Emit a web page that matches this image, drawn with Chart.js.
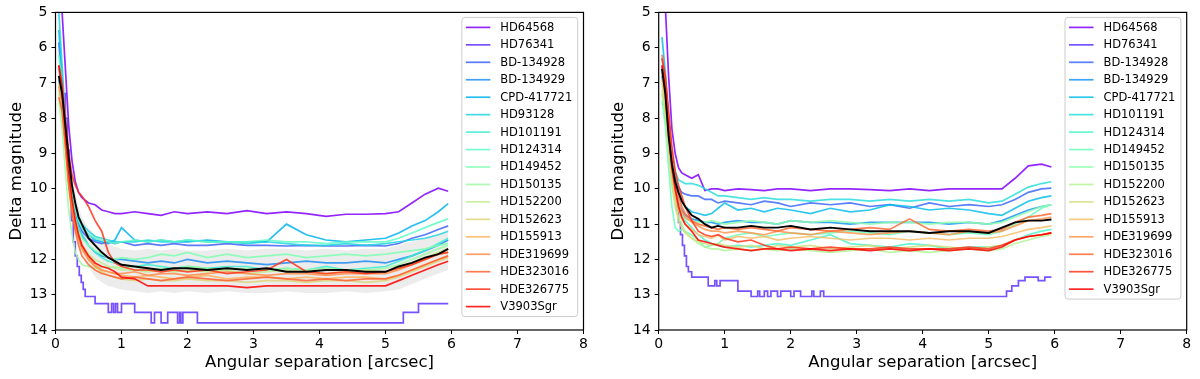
<!DOCTYPE html>
<html>
<head>
<meta charset="utf-8">
<script src="https://cdn.jsdelivr.net/npm/chart.js@4/dist/chart.umd.min.js"></script>
<style>
html, body { margin: 0; padding: 0; background: #fff; }
#wrap { display: flex; width: 1200px; height: 379px; }
.panel { position: relative; width: 600px; height: 379px; }
</style>
</head>
<body>
<div id="wrap">
  <div class="panel"><canvas id="leftChart"></canvas></div>
  <div class="panel"><canvas id="rightChart"></canvas></div>
</div>
<script>
// angular separation grid (arcsec) shared by the smooth curves
const sep = [0.05, 0.1, 0.15, 0.2, 0.25, 0.3, 0.35, 0.4,
  0.5, 0.6, 0.7, 0.8, 0.9, 1.0,
  1.2, 1.4, 1.6, 1.8, 2.0,
  2.3, 2.6, 2.9, 3.2, 3.5, 3.8, 4.1, 4.4, 4.7, 5.0,
  5.2, 5.4, 5.6, 5.8, 5.95];

const xTicks = [0, 1, 2, 3, 4, 5, 6, 7, 8];
const yTicks = [5, 6, 7, 8, 9, 10, 11, 12, 13, 14];

// ---- left panel ----
const leftNames = ['HD64568', 'HD76341', 'BD-134928', 'BD-134929', 'CPD-417721', 'HD93128',
  'HD101191', 'HD124314', 'HD149452', 'HD150135', 'HD152200', 'HD152623', 'HD155913',
  'HDE319699', 'HDE323016', 'HDE326775', 'V3903Sgr'];

// HD76341 is a stepped curve with its own sampling
const leftStepX = [0.05, 0.1, 0.15, 0.18, 0.21, 0.24, 0.27, 0.3, 0.33, 0.36, 0.39, 0.42, 0.45,
  0.6, 0.8, 0.85, 0.88, 0.91, 0.94, 1.0,
  1.2, 1.45, 1.5, 1.6, 1.7, 1.85, 1.88, 1.9, 1.93, 2.15, 5.27, 5.5, 5.95];
const leftStepY = [7.0, 7.3, 8.0, 8.9, 10.0, 10.9, 11.5, 11.9, 12.2, 12.45, 12.65, 12.85, 13.05,
  13.25, 13.5, 13.25, 13.5, 13.25, 13.5, 13.25,
  13.5, 13.8, 13.5, 13.8, 13.5, 13.8, 13.5, 13.8, 13.5, 13.8, 13.5, 13.25, 13.25];

const leftCurves = [
  [4.5, 5.0, 6.6, 8.2, 9.2, 9.8, 10.1, 10.25, 10.4, 10.45, 10.6, 10.65, 10.7, 10.7, 10.65, 10.7, 10.75, 10.65, 10.7, 10.65, 10.7, 10.62, 10.7, 10.65, 10.7, 10.78, 10.72, 10.72, 10.7, 10.65, 10.4, 10.15, 9.98, 10.07],
  leftStepY,
  [5.85, 7.0, 8.4, 9.5, 10.2, 10.7, 11.0, 11.2, 11.4, 11.5, 11.55, 11.5, 11.55, 11.5, 11.6, 11.55, 11.6, 11.55, 11.6, 11.6, 11.55, 11.6, 11.6, 11.62, 11.6, 11.62, 11.62, 11.6, 11.62, 11.55, 11.4, 11.3, 11.15, 11.05],
  [6.9, 7.5, 8.6, 9.6, 10.3, 10.8, 11.1, 11.3, 11.6, 11.8, 11.9, 11.95, 12.0, 12.0, 12.05, 12.1, 12.05, 12.1, 12.0, 12.1, 12.05, 12.1, 12.15, 12.1, 12.05, 12.1, 12.1, 12.05, 12.1, 12.0, 11.9, 11.75, 11.6, 11.45],
  [5.5, 6.8, 8.2, 9.4, 10.1, 10.6, 10.9, 11.1, 11.3, 11.45, 11.5, 11.55, 11.45, 11.1, 11.45, 11.5, 11.45, 11.5, 11.5, 11.45, 11.5, 11.5, 11.5, 11.0, 11.3, 11.45, 11.5, 11.45, 11.4, 11.25, 11.05, 10.9, 10.65, 10.42],
  [5.0, 6.5, 8.0, 9.2, 10.0, 10.5, 10.8, 11.0, 11.2, 11.35, 11.4, 11.45, 11.5, 11.5, 11.5, 11.45, 11.5, 11.5, 11.45, 11.5, 11.5, 11.55, 11.5, 11.55, 11.6, 11.6, 11.55, 11.6, 11.55, 11.5, 11.45, 11.4, 11.3, 11.2],
  [6.6, 7.3, 8.5, 9.6, 10.3, 10.8, 11.1, 11.3, 11.6, 11.8, 11.95, 12.05, 12.1, 12.15, 12.2, 12.15, 12.2, 12.25, 12.2, 12.25, 12.2, 12.2, 12.3, 12.25, 12.3, 12.2, 12.3, 12.25, 12.2, 12.05, 11.9, 11.75, 11.55, 11.4],
  [6.2, 7.0, 8.2, 9.4, 10.1, 10.6, 10.9, 11.1, 11.3, 11.4, 11.45, 11.5, 11.55, 11.5, 11.45, 11.5, 11.45, 11.5, 11.45, 11.5, 11.5, 11.5, 11.45, 11.5, 11.5, 11.55, 11.5, 11.5, 11.5, 11.4, 11.25, 11.1, 10.95, 10.85],
  [7.2, 7.6, 8.6, 9.7, 10.4, 10.9, 11.2, 11.4, 11.6, 11.75, 11.85, 11.95, 12.0, 11.95, 12.0, 11.95, 11.85, 11.9, 11.8, 11.95, 11.85, 11.95, 11.9, 11.85, 11.95, 11.9, 11.85, 11.9, 11.85, 11.8, 11.75, 11.7, 11.6, 11.55],
  [7.5, 8.3, 9.5, 10.6, 11.3, 11.8, 12.0, 12.15, 12.2, 12.25, 12.2, 12.25, 12.2, 12.25, 12.2, 12.3, 12.25, 12.3, 12.2, 12.25, 12.3, 12.25, 12.3, 12.25, 12.3, 12.25, 12.3, 12.3, 12.25, 12.15, 12.0, 11.85, 11.7, 11.6],
  [7.3, 7.9, 8.9, 9.9, 10.6, 11.1, 11.4, 11.6, 11.85, 12.0, 12.1, 12.2, 12.25, 12.3, 12.3, 12.35, 12.3, 12.35, 12.3, 12.35, 12.3, 12.4, 12.35, 12.3, 12.35, 12.4, 12.35, 12.3, 12.35, 12.25, 12.1, 11.95, 11.8, 11.7],
  [7.0, 7.6, 8.7, 9.8, 10.5, 11.0, 11.4, 11.7, 12.0, 12.2, 12.35, 12.45, 12.5, 12.55, 12.6, 12.55, 12.6, 12.6, 12.55, 12.6, 12.6, 12.65, 12.6, 12.6, 12.65, 12.6, 12.6, 12.65, 12.6, 12.5, 12.35, 12.2, 12.05, 11.95],
  [6.8, 7.4, 8.6, 9.7, 10.4, 10.9, 11.3, 11.6, 11.95, 12.15, 12.3, 12.35, 12.4, 12.45, 12.5, 12.45, 12.5, 12.55, 12.5, 12.45, 12.55, 12.5, 12.5, 12.55, 12.5, 12.55, 12.5, 12.5, 12.55, 12.45, 12.3, 12.15, 12.0, 11.9],
  [7.1, 7.6, 8.7, 9.8, 10.6, 11.1, 11.4, 11.7, 12.0, 12.2, 12.3, 12.35, 12.4, 12.4, 12.35, 12.45, 12.4, 12.4, 12.45, 12.4, 12.35, 12.4, 12.45, 12.4, 12.4, 12.45, 12.4, 12.4, 12.4, 12.3, 12.15, 12.0, 11.85, 11.8],
  [7.4, 7.8, 8.8, 9.9, 10.7, 11.2, 11.6, 11.9, 12.15, 12.3, 12.4, 12.45, 12.5, 12.55, 12.5, 12.55, 12.6, 12.55, 12.5, 12.55, 12.6, 12.55, 12.5, 12.55, 12.6, 12.55, 12.6, 12.55, 12.55, 12.45, 12.3, 12.15, 12.0, 11.9],
  [6.5, 7.0, 8.0, 9.0, 9.6, 9.9, 10.1, 10.2, 10.5, 10.9, 11.2, 11.8, 12.1, 12.2, 12.3, 12.3, 12.35, 12.3, 12.35, 12.3, 12.4, 12.35, 12.3, 12.0, 12.35, 12.4, 12.35, 12.4, 12.35, 12.25, 12.15, 12.0, 11.85, 11.8],
  [6.5, 7.2, 8.4, 9.5, 10.3, 10.9, 11.3, 11.6, 11.9, 12.1, 12.2, 12.25, 12.35, 12.5, 12.55, 12.75, 12.75, 12.75, 12.75, 12.75, 12.75, 12.8, 12.75, 12.75, 12.75, 12.75, 12.75, 12.75, 12.75, 12.6, 12.45, 12.3, 12.15, 12.05]
];

const leftMean = [6.8, 7.3, 8.2, 9.1, 9.9, 10.4, 10.8, 11.0, 11.4, 11.6, 11.8, 11.95, 12.05, 12.15, 12.2, 12.25, 12.3, 12.25, 12.25, 12.3, 12.25, 12.3, 12.25, 12.35, 12.35, 12.3, 12.3, 12.35, 12.35, 12.2, 12.1, 11.95, 11.85, 11.7];
const leftBandHi = [6.2, 6.9, 7.9, 8.9, 9.6, 10.1, 10.5, 10.8, 11.1, 11.3, 11.45, 11.55, 11.65, 11.7, 11.75, 11.7, 11.75, 11.7, 11.75, 11.75, 11.7, 11.75, 11.7, 11.7, 11.75, 11.7, 11.75, 11.7, 11.7, 11.6, 11.5, 11.4, 11.3, 11.2];
const leftBandLo = [7.4, 7.8, 8.8, 9.8, 10.5, 11.0, 11.4, 11.8, 12.2, 12.5, 12.65, 12.75, 12.8, 12.85, 12.9, 12.95, 12.9, 12.95, 12.9, 12.95, 12.9, 12.95, 12.95, 12.9, 12.95, 12.95, 12.9, 12.95, 12.9, 12.85, 12.7, 12.55, 12.4, 12.3];

// ---- right panel ----
const rightNames = ['HD64568', 'HD76341', 'BD-134928', 'BD-134929', 'CPD-417721',
  'HD101191', 'HD124314', 'HD149452', 'HD150135', 'HD152200', 'HD152623', 'HD155913',
  'HDE319699', 'HDE323016', 'HDE326775', 'V3903Sgr'];

const rightStepX = [0.05, 0.1, 0.15, 0.18, 0.21, 0.24, 0.27, 0.3, 0.33, 0.36, 0.39, 0.42, 0.45, 0.5,
  0.75, 0.85, 0.88, 0.93,
  1.2, 1.4, 1.5, 1.53, 1.6, 1.65, 1.7, 1.8, 1.85, 2.0, 2.05, 2.15, 2.32, 2.35, 2.45, 2.5,
  5.27, 5.35, 5.45, 5.55, 5.75, 5.85, 5.95];
const rightStepY = [7.6, 8.0, 8.6, 9.1, 9.7, 10.2, 10.6, 10.95, 11.3, 11.6, 11.9, 12.2, 12.35, 12.5,
  12.75, 12.6, 12.75, 12.6,
  12.9, 13.05, 12.9, 13.05, 12.9, 13.05, 12.9, 13.05, 12.9, 13.05, 12.9, 13.05, 12.9, 13.05, 12.9, 13.05,
  12.9, 12.75, 12.6, 12.5, 12.6, 12.5, 12.5];

const rightCurves = [
  [4.0, 4.8, 6.8, 8.3, 9.0, 9.4, 9.55, 9.6, 9.7, 9.6, 10.05, 10.0, 10.0, 10.05, 10.0, 10.02, 10.05, 10.0, 10.0, 10.05, 10.0, 10.0, 10.02, 10.05, 10.0, 10.05, 10.0, 10.0, 10.0, 10.0, 9.7, 9.35, 9.3, 9.38],
  rightStepY,
  [6.5, 7.2, 8.3, 9.2, 9.7, 9.95, 10.1, 10.15, 10.2, 10.2, 10.3, 10.3, 10.4, 10.35, 10.4, 10.45, 10.35, 10.4, 10.5, 10.4, 10.45, 10.4, 10.5, 10.45, 10.55, 10.4, 10.5, 10.45, 10.5, 10.45, 10.3, 10.1, 10.0, 9.98],
  [6.8, 7.4, 8.5, 9.4, 10.0, 10.4, 10.6, 10.75, 10.85, 10.9, 10.95, 10.95, 11.0, 10.95, 10.9, 10.95, 10.95, 11.0, 10.9, 10.95, 10.95, 11.0, 10.95, 10.95, 10.95, 10.95, 11.0, 10.95, 11.0, 10.9, 10.75, 10.6, 10.5, 10.45],
  [5.7, 6.7, 8.0, 9.0, 9.7, 10.1, 10.35, 10.5, 10.65, 10.7, 10.75, 10.7, 10.55, 10.4, 10.6, 10.55, 10.65, 10.55, 10.6, 10.7, 10.55, 10.65, 10.6, 10.45, 10.5, 10.6, 10.55, 10.6, 10.7, 10.75, 10.55, 10.35, 10.25, 10.2],
  [6.3, 7.0, 8.0, 9.0, 9.5, 9.75, 9.8, 9.85, 9.85, 9.9, 10.0, 10.1, 10.2, 10.2, 10.25, 10.3, 10.25, 10.3, 10.3, 10.35, 10.3, 10.3, 10.35, 10.3, 10.35, 10.3, 10.35, 10.3, 10.4, 10.35, 10.15, 9.95, 9.85, 9.8],
  [6.6, 7.3, 8.4, 9.4, 10.0, 10.4, 10.7, 10.9, 11.1, 11.3, 11.45, 11.55, 11.6, 11.65, 11.6, 11.65, 11.6, 11.55, 11.6, 11.45, 11.3, 11.55, 11.6, 11.65, 11.55, 11.6, 11.7, 11.65, 11.65, 11.6, 11.45, 11.3, 11.2, 11.15],
  [7.5, 8.2, 9.4, 10.5, 11.1, 11.2, 11.15, 11.2, 11.3, 11.45, 11.65, 11.6, 11.55, 11.4, 11.3, 11.25, 11.35, 11.3, 11.25, 11.3, 11.25, 11.2, 11.25, 11.3, 11.2, 11.25, 11.3, 11.25, 11.3, 11.2, 11.0, 10.8, 10.55, 10.45],
  [7.3, 7.9, 8.9, 9.8, 10.3, 10.6, 10.75, 10.85, 10.9, 10.95, 10.95, 10.9, 10.95, 11.0, 10.95, 10.9, 10.95, 11.0, 10.9, 10.95, 10.9, 10.95, 11.0, 10.95, 10.95, 11.0, 10.95, 10.95, 11.0, 10.95, 10.8, 10.65, 10.5, 10.45],
  [7.0, 7.7, 8.8, 9.8, 10.4, 10.8, 11.0, 11.2, 11.4, 11.55, 11.65, 11.7, 11.7, 11.75, 11.7, 11.75, 11.7, 11.75, 11.7, 11.75, 11.8, 11.75, 11.7, 11.8, 11.75, 11.8, 11.75, 11.7, 11.75, 11.7, 11.55, 11.45, 11.35, 11.3],
  [7.2, 7.8, 8.9, 9.9, 10.5, 10.9, 11.1, 11.25, 11.4, 11.5, 11.55, 11.6, 11.55, 11.6, 11.65, 11.6, 11.7, 11.6, 11.65, 11.6, 11.7, 11.65, 11.6, 11.7, 11.65, 11.6, 11.65, 11.7, 11.65, 11.6, 11.45, 11.35, 11.3, 11.25],
  [6.9, 7.5, 8.6, 9.6, 10.2, 10.6, 10.85, 11.0, 11.15, 11.3, 11.35, 11.4, 11.3, 11.45, 11.35, 11.4, 11.35, 11.45, 11.4, 11.35, 11.4, 11.45, 11.4, 11.4, 11.45, 11.4, 11.45, 11.4, 11.4, 11.35, 11.25, 11.15, 11.1, 11.05],
  [6.7, 7.3, 8.4, 9.4, 10.0, 10.4, 10.65, 10.8, 10.95, 11.05, 11.15, 11.2, 11.2, 11.25, 11.2, 11.25, 11.3, 11.2, 11.25, 11.3, 11.2, 11.25, 11.3, 11.25, 11.2, 11.25, 11.3, 11.2, 11.25, 11.2, 11.05, 10.9, 10.85, 10.8],
  [6.2, 6.9, 8.0, 9.1, 9.8, 10.2, 10.5, 10.7, 10.9, 11.0, 11.05, 11.1, 11.15, 11.1, 11.15, 11.1, 11.15, 11.2, 11.1, 11.15, 11.2, 11.15, 11.1, 11.15, 10.85, 11.15, 11.2, 11.15, 11.2, 11.15, 10.95, 10.8, 10.75, 10.7],
  [6.3, 6.8, 7.8, 8.8, 9.5, 9.9, 10.2, 10.5, 10.9, 11.2, 11.3, 11.35, 11.3, 11.4, 11.5, 11.45, 11.6, 11.7, 11.65, 11.7, 11.65, 11.7, 11.7, 11.65, 11.7, 11.7, 11.7, 11.65, 11.7, 11.6, 11.45, 11.35, 11.3, 11.25],
  [6.5, 7.2, 8.4, 9.4, 10.0, 10.5, 10.8, 11.0, 11.2, 11.45, 11.5, 11.55, 11.6, 11.65, 11.7, 11.75, 11.7, 11.7, 11.75, 11.7, 11.75, 11.7, 11.75, 11.7, 11.75, 11.7, 11.75, 11.7, 11.75, 11.65, 11.45, 11.35, 11.3, 11.25]
];

const rightMean = [6.6, 7.3, 8.5, 9.3, 9.8, 10.1, 10.35, 10.5, 10.75, 10.85, 11.0, 11.1, 11.05, 11.1, 11.1, 11.05, 11.1, 11.1, 11.05, 11.15, 11.1, 11.15, 11.2, 11.2, 11.2, 11.25, 11.2, 11.2, 11.25, 11.1, 10.95, 10.9, 10.9, 10.87];

Chart.defaults.font.family = "'DejaVu Sans', sans-serif";
Chart.defaults.color = '#000';

// matplotlib "rainbow" colormap
function rainbow(t, a) {
  const c = v => Math.round(Math.max(0, Math.min(1, v)) * 255);
  const r = c(Math.abs(2 * t - 0.5));
  const g = c(Math.sin(Math.PI * t));
  const b = c(Math.cos(Math.PI * t / 2));
  return 'rgba(' + r + ',' + g + ',' + b + ',' + a + ')';
}

function pts(xs, ys) {
  return ys.map((y, i) => ({ x: xs[i], y: y }));
}

function buildSets(names, curves, stepX, mean, bandHi, bandLo) {
  const sets = [];
  if (bandHi) {
    sets.push({ data: pts(sep, bandHi), borderColor: 'rgba(0,0,0,0)', borderWidth: 0, fill: '+1',
      backgroundColor: 'rgba(200,200,200,0.35)', order: 1000, isBand: true });
    sets.push({ data: pts(sep, bandLo), borderColor: 'rgba(0,0,0,0)', borderWidth: 0, fill: false,
      order: 1001, isBand: true });
  }
  names.forEach((name, i) => {
    const t = i / (names.length - 1);
    const stepped = i === 1;
    sets.push({
      label: name,
      data: pts(stepped ? stepX : sep, curves[i]),
      borderColor: rainbow(t, 0.85),
      borderWidth: 1.7,
      stepped: stepped,
      order: 100 - i
    });
  });
  sets.push({ data: pts(sep, mean), borderColor: '#000', borderWidth: 1.9, order: 0, isBand: true });
  return sets;
}

const framePlugin = {
  id: 'frameAndLegend',
  afterDatasetsDraw(chart) {
    const ctx = chart.ctx;
    const a = chart.chartArea;
    ctx.save();
    ctx.strokeStyle = '#000';
    ctx.lineWidth = 1.2;
    ctx.strokeRect(a.left, a.top, a.right - a.left, a.bottom - a.top);

    // legend box in the upper right corner
    const items = chart.data.datasets.filter(d => !d.isBand);
    ctx.font = '11.5px "DejaVu Sans"';
    let tw = 0;
    items.forEach(d => { tw = Math.max(tw, ctx.measureText(d.label).width); });
    const rowH = 17.45;
    const w = tw + 44;
    const h = items.length * rowH + 2.5;
    const right = a.right - 5.8;
    const left = right - w;
    const top = a.top + 5;
    ctx.beginPath();
    ctx.roundRect(left, top, w, h, 3);
    ctx.fillStyle = 'rgba(255,255,255,0.8)';
    ctx.fill();
    ctx.strokeStyle = '#cccccc';
    ctx.lineWidth = 1;
    ctx.stroke();
    ctx.textBaseline = 'middle';
    ctx.textAlign = 'left';
    items.forEach((d, i) => {
      const cy = top + 10 + i * rowH;
      ctx.beginPath();
      ctx.moveTo(left + 4, cy);
      ctx.lineTo(left + 28.5, cy);
      ctx.strokeStyle = d.borderColor;
      ctx.lineWidth = 1.7;
      ctx.stroke();
      ctx.fillStyle = '#000';
      ctx.fillText(d.label, left + 38.5, cy + 0.5);
    });
    ctx.restore();
  }
};

function makeChart(id, sets, yWidth, rightPad, yTitlePad) {
  return new Chart(document.getElementById(id), {
    type: 'line',
    data: { datasets: sets },
    options: {
      responsive: true,
      maintainAspectRatio: false,
      animation: false,
      elements: { point: { radius: 0 }, line: { tension: 0 } },
      layout: { padding: { left: 0, top: 9, right: rightPad, bottom: 0 } },
      plugins: { legend: { display: false }, tooltip: { enabled: false } },
      scales: {
        x: {
          type: 'linear', min: 0, max: 8,
          afterBuildTicks: s => { s.ticks = xTicks.map(v => ({ value: v })); },
          ticks: { font: { size: 14 }, padding: 2, maxRotation: 0 },
          grid: { drawOnChartArea: false, drawTicks: true, tickLength: 4, color: '#000' },
          border: { display: false },
          title: { display: true, text: 'Angular separation [arcsec]', font: { size: 16.5 }, padding: { top: 0, bottom: 6 } },
          afterFit: s => { s.height = 49; }
        },
        y: {
          type: 'linear', min: 5, max: 14, reverse: true,
          afterBuildTicks: s => { s.ticks = yTicks.map(v => ({ value: v })); },
          ticks: { font: { size: 14 }, padding: 4 },
          grid: { drawOnChartArea: false, drawTicks: true, tickLength: 4, color: '#000' },
          border: { display: false },
          title: { display: true, text: 'Delta magnitude', font: { size: 16.5 }, padding: { top: yTitlePad, bottom: 0 } },
          afterFit: s => { s.width = yWidth; }
        }
      }
    },
    plugins: [framePlugin]
  });
}

makeChart('leftChart', buildSets(leftNames, leftCurves, leftStepX, leftMean, leftBandHi, leftBandLo), 55.5, 16.5, 6.5);
makeChart('rightChart', buildSets(rightNames, rightCurves, rightStepX, rightMean, null, null), 58.7, 13.3, 9);
</script>
</body>
</html>
